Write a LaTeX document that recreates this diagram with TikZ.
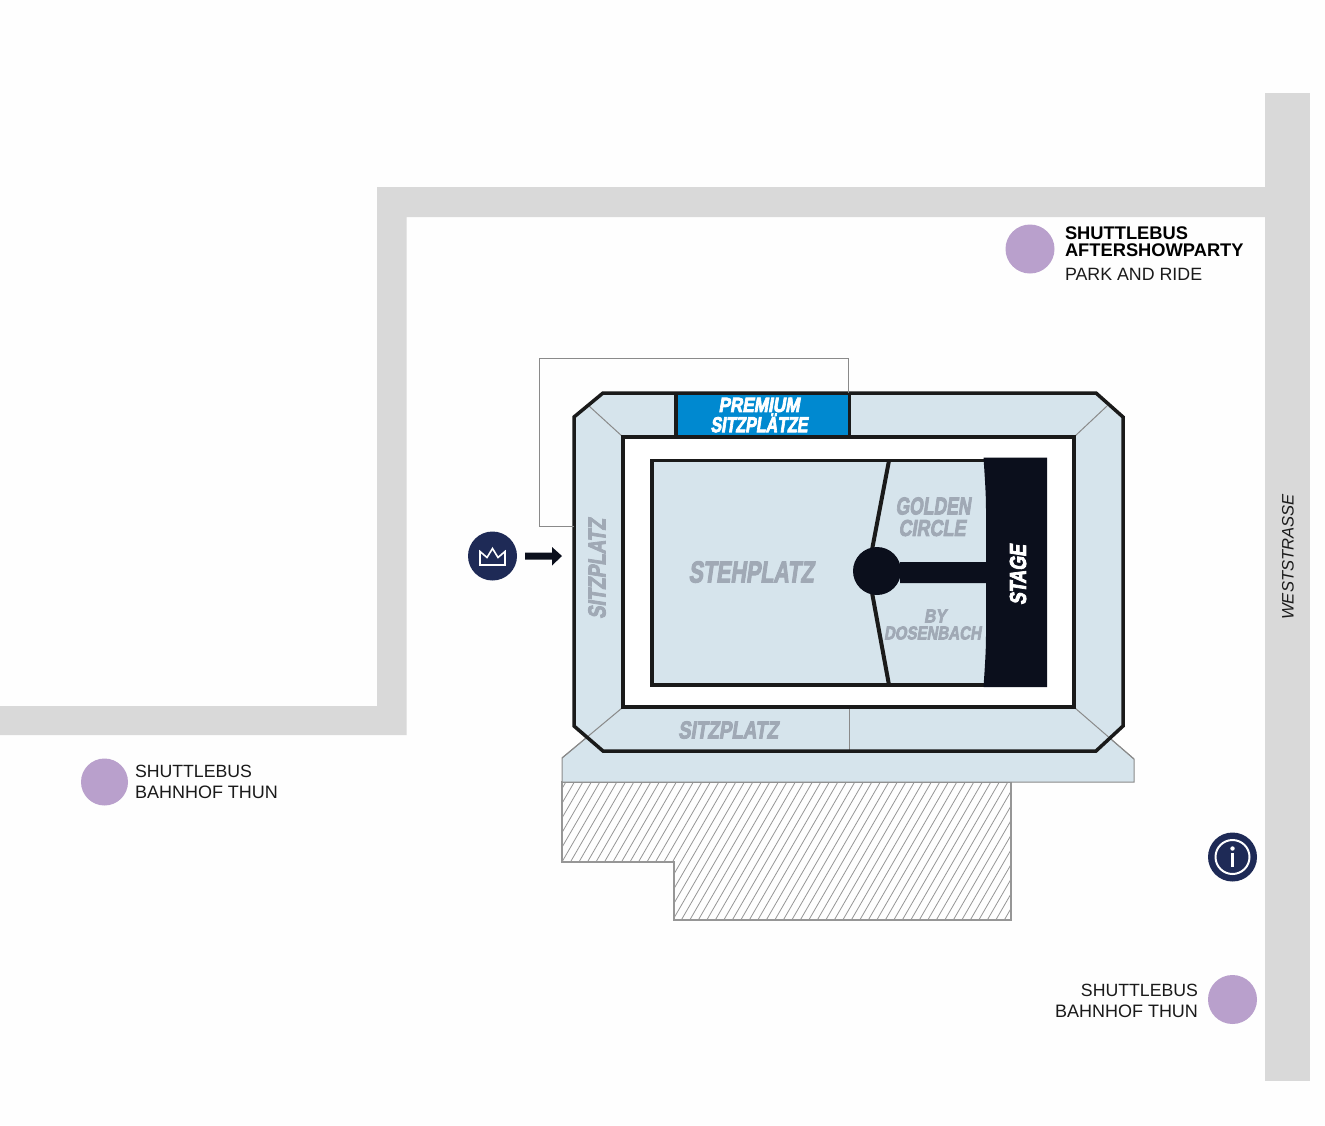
\documentclass[tikz,border=0pt]{standalone}
\usepackage{fontspec}
\usepackage{graphicx}
\setmainfont{Liberation Sans}
\newfontfamily\heavy[FakeSlant=0.2,FakeBold=4]{Liberation Sans Bold}
\definecolor{bgc}{HTML}{FEFEFE}
\definecolor{road}{HTML}{D9D9D9}
\definecolor{seat}{HTML}{D6E4EC}
\definecolor{ink}{HTML}{1A1A1A}
\definecolor{stagec}{HTML}{0B0F1C}
\definecolor{navy}{HTML}{1E2A56}
\definecolor{purp}{HTML}{B9A0CC}
\definecolor{blue}{HTML}{0089D0}
\definecolor{lab}{HTML}{A0A9B5}
\definecolor{thin}{HTML}{8A8A8A}
\newcommand{\hv}[3]{\resizebox{#1pt}{#2pt}{\heavy #3}}
\tikzset{
  roadfill/.style={fill=road,draw=none},
  heavyline/.style={draw=ink,line width=3.5pt,line join=miter},
  thinline/.style={draw=thin,line width=1pt},
  lbl/.style={inner sep=0pt,outer sep=0pt},
  info/.style={lbl,font=\fontsize{17.8}{21}\selectfont,text=ink},
  infow/.style={lbl,font=\fontsize{18}{21}\selectfont,text=ink},
  infos/.style={lbl,font=\fontsize{17.7}{21}\selectfont,text=ink},
  infob/.style={lbl,font=\fontsize{18.3}{17}\selectfont\bfseries,text=black},
  dot/.style={fill=purp,draw=none},
}
\begin{document}
\begin{tikzpicture}[x=1pt,y=-1pt]
\useasboundingbox (0,0) rectangle (1325,1125);
\fill[bgc] (0,0) rectangle (1325,1125);
% roads
\fill[roadfill] (1265,93) rectangle (1310,1081);
\fill[roadfill] (0,735) -- (406.5,735) -- (406.5,217) -- (1265,217) -- (1265,187) -- (377,187) -- (377,706) -- (0,706) -- cycle;
% hatched area
\begin{scope}
\clip (562,782) -- (1011,782) -- (1011,920) -- (674,920) -- (674,862) -- (562,862) -- cycle;
\foreach \i in {0,...,70}{
  \draw[thin!90!white,line width=.8pt] ({480+\i*8.5},930) -- ++(87,-150);
}
\end{scope}
\draw[thinline,line width=1.2pt,draw=thin!90!white] (562,782) -- (1011,782) -- (1011,920) -- (674,920) -- (674,862) -- (562,862) -- cycle;
% base platform
\path[fill=seat,draw=thin,line width=1pt] (562,782) -- (562,758) -- (622,708) -- (1075,708) -- (1134,759) -- (1134,782) -- cycle;
% seating ring
\path[fill=seat] (603,393) -- (1096,393) -- (1123,417) -- (1123,726) -- (1096,751) -- (603,751) -- (574,726) -- (574,417) -- cycle;
% premium
\fill[blue] (676,394) rectangle (849,436);
\draw[ink,line width=3.5pt] (676,393) -- (676,437) (849.5,393) -- (849.5,437);
% diagonals & separators
\draw[thinline] (589,406) -- (623,437);
\draw[thinline] (1107,406) -- (1074,437);
\draw[thinline] (562,758) -- (622,708);
\draw[thinline] (1134,759) -- (1075,708);
\draw[thinline] (849,707) -- (849,751);
\draw[heavyline] (603,393) -- (1096,393) -- (1123,417) -- (1123,726) -- (1096,751) -- (603,751) -- (574,726) -- (574,417) -- cycle;
% inner arena
\path[fill=white,heavyline] (623,437) rectangle (1074,707);
\path[fill=seat,heavyline] (652,460.5) rectangle (990,685);
% stage
\fill[stagec] (983.5,457.5) .. controls (985,480) and (986,495) .. (986,510) -- (986,562) -- (900,562) -- (900,583) -- (986,583) -- (986,635) .. controls (986,650) and (985,665) .. (983.5,687) -- (1047,687) -- (1047,457.5) -- cycle;
\draw[ink,line width=4pt] (889,460.5) -- (871,555) (871,587) -- (889,685);
\fill[stagec] (877,571) circle (24);
% connector outline
\draw[thinline] (574,526) -- (539.5,526) -- (539.5,358.5) -- (848.5,358.5) -- (848.5,393);
% labels
\node[lbl] (premium) at (759,405) {\textcolor{white}{\hv{81}{14}{PREMIUM}}};
\node[lbl] (sitzpl) at (759,423) {\textcolor{white}{\hv{97}{18.5}{SITZPLÄTZE}}};
\node[lbl] (steh) at (751,572) {\textcolor{lab}{\hv{125}{21}{STEHPLATZ}}};
\node[lbl] (golden) at (933,506) {\textcolor{lab}{\hv{75}{17}{GOLDEN}}};
\node[lbl] (circle) at (932,528) {\textcolor{lab}{\hv{67}{16}{CIRCLE}}};
\node[lbl] (by) at (935,616) {\textcolor{lab}{\hv{22}{13}{BY}}};
\node[lbl] (dosen) at (932.5,633) {\textcolor{lab}{\hv{97}{13}{DOSENBACH}}};
\node[lbl,rotate=90] (stage) at (1018,575) {\textcolor{white}{\hv{60}{16}{STAGE}}};
\node[lbl,rotate=90] (sitzl) at (597,569) {\textcolor{lab}{\hv{100}{17}{SITZPLATZ}}};
\node[lbl] (sitzb) at (728,730) {\textcolor{lab}{\hv{100}{17}{SITZPLATZ}}};
% crown marker
\fill[navy] (492.5,556) circle (24.5);
\draw[white,line width=1.6pt,line join=miter] (480,551.5) -- (487,557.5) -- (492.5,548.5) -- (498,557.5) -- (505,551.5) -- (505,565) -- (480,565) -- cycle;
\fill[stagec] (525,552.5) -- (552,552.5) -- (552,547) -- (562,556) -- (552,565.5) -- (552,559.5) -- (525,559.5) -- cycle;
% info marker
\fill[navy] (1232.5,857) circle (24.5);
\draw[white,line width=2pt] (1232.5,857) circle (17);
\fill[white] (1232.5,848.5) circle (2.2);
\fill[white] (1230.8,853) rectangle (1234.2,867);
% purple dots
\fill[dot] (1030,249) circle (24.5);
\fill[dot] (104.5,782) circle (23.5);
\fill[dot] (1232.5,999.5) circle (24.5);
% texts
\node[infob,anchor=base west] (sa) at (1065,239.5) {SHUTTLEBUS};
\node[infob,anchor=base west] (sb) at (1065,256.5) {AFTERSHOWPARTY};
\node[info,anchor=base west] (sc) at (1065,280) {PARK AND RIDE};
\node[infos,anchor=base west] (la) at (135,777.5) {SHUTTLEBUS};
\node[infow,anchor=base west] (lb) at (135,798.5) {BAHNHOF THUN};
\node[infos,anchor=base east] (ra) at (1198,996) {SHUTTLEBUS};
\node[infow,anchor=base east] (rb) at (1198,1017) {BAHNHOF THUN};
\node[info,rotate=90,font=\fontsize{16.6}{21}\selectfont\itshape] (west) at (1288,557) {WESTSTRASSE};
\end{tikzpicture}
\end{document}
